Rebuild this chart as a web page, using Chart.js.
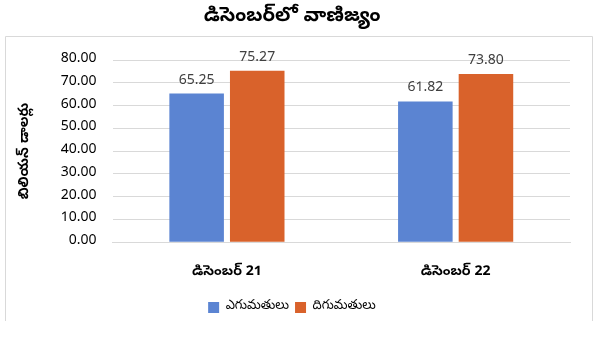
<!DOCTYPE html>
<html>
<head>
<meta charset="utf-8">
<script src="https://cdn.jsdelivr.net/npm/chart.js@4"></script>
<style>
  body { margin: 0; background: #fff; }
  #wrap { width: 604px; height: 340px; }
</style>
</head>
<body>
<div id="wrap"><canvas id="tradeChart" width="604" height="340"></canvas></div>
<script>
const FONT = "'Noto Sans Telugu', 'Noto Sans', Lato, sans-serif";
const chartTitle = 'డిసెంబర్‌లో వాణిజ్యం';
const yTitle = 'బిలియన్ డాలర్లు';
const months = ['డిసెంబర్ 21', 'డిసెంబర్ 22'];
const seriesNames = ['ఎగుమతులు', 'దిగుమతులు'];
const exportsVals = [65.25, 61.82];
const importsVals = [75.27, 73.80];
const yTicks = [0, 10, 20, 30, 40, 50, 60, 70, 80];

// frame around the plot block (below the title): left, top and right edges
const framePlugin = {
  id: 'frame',
  beforeDraw(chart) {
    const c = chart.ctx;
    c.save();
    c.strokeStyle = '#d9d9d9';
    c.lineWidth = 1;
    c.beginPath();
    c.moveTo(5.5, 321);
    c.lineTo(5.5, 36.5);
    c.lineTo(592.5, 36.5);
    c.lineTo(592.5, 321);
    c.stroke();
    c.restore();
  }
};

// value labels on top of each bar
const valueLabels = {
  id: 'valueLabels',
  afterDatasetsDraw(chart) {
    const c = chart.ctx;
    c.save();
    c.font = '14px ' + FONT;
    c.fillStyle = '#404040';
    c.textAlign = 'center';
    c.textBaseline = 'bottom';
    chart.data.datasets.forEach((ds, i) => {
      chart.getDatasetMeta(i).data.forEach((bar, j) => {
        c.fillText(ds.data[j].toFixed(2), bar.x, bar.y - 5);
      });
    });
    c.restore();
  }
};

new Chart(document.getElementById('tradeChart'), {
  type: 'bar',
  data: {
    labels: months,
    datasets: [
      { label: seriesNames[0], data: exportsVals, backgroundColor: '#5b84d2' },
      { label: seriesNames[1], data: importsVals, backgroundColor: '#d9622b' }
    ]
  },
  options: {
    responsive: false,
    animation: false,
    devicePixelRatio: 1,
    categoryPercentage: 0.53,
    barPercentage: 0.9,
    layout: { padding: { left: 14, right: 34, top: 4, bottom: 16 } },
    plugins: {
      title: {
        display: true,
        text: chartTitle,
        color: '#000',
        font: { family: FONT, size: 20, weight: 'bold' },
        padding: { top: 2, bottom: 30 }
      },
      legend: {
        position: 'bottom',
        labels: {
          color: '#000',
          font: { family: FONT, size: 13 },
          boxWidth: 11,
          boxHeight: 11,
          padding: 6
        }
      },
      tooltip: { enabled: false }
    },
    scales: {
      x: {
        grid: { display: false },
        border: { color: '#d9d9d9' },
        ticks: { color: '#000', font: { family: FONT, size: 14, weight: 'bold' }, padding: 14 }
      },
      y: {
        min: 0,
        max: 80,
        afterBuildTicks(axis) { axis.ticks = yTicks.map(v => ({ value: v })); },
        border: { display: false },
        grid: { color: '#d9d9d9', drawTicks: false },
        ticks: {
          color: '#000',
          padding: 16,
          font: { family: FONT, size: 14 },
          callback: v => v.toFixed(2)
        },
        title: {
          display: true,
          text: yTitle,
          color: '#000',
          font: { family: FONT, size: 14, weight: 'bold' },
          padding: { bottom: 10 }
        }
      }
    }
  },
  plugins: [framePlugin, valueLabels]
});
</script>
</body>
</html>
